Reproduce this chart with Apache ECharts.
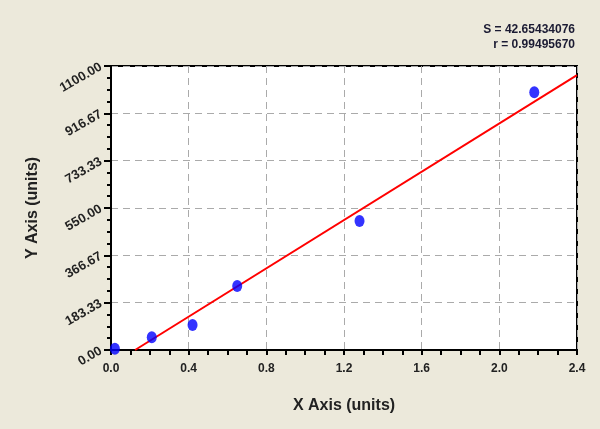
<!DOCTYPE html>
<html>
<head>
<meta charset="utf-8">
<script src="https://cdn.jsdelivr.net/npm/echarts@6/dist/echarts.min.js"></script>
<style>
html,body{margin:0;padding:0;background:#ECE9DB;}
#c{width:600px;height:429px;}
</style>
</head>
<body>
<div id="c"></div>
<script>
var xValues = [0.02, 0.21, 0.42, 0.65, 1.28, 2.18];
var yValues = [5, 49, 97, 248, 500, 998];
var fitX = [0.124, 2.4];
var fitY = [0, 1065];
var statS = "S = 42.65434076";
var statR = "r = 0.99495670";
var xName = "X Axis (units)";
var yName = "Y Axis (units)";

var points = xValues.map(function(x, i){ return [x, yValues[i]]; });
var fit = fitX.map(function(x, i){ return [x, fitY[i]]; });
var font = "Liberation Sans, Arial, sans-serif";

var chart = echarts.init(document.getElementById('c'), null, {renderer:'canvas'});
chart.setOption({
  backgroundColor: '#ECE9DB',
  animation: false,
  graphic: [
    {type: 'text', right: 25, top: 24, style: {text: statS, fontFamily: font, fontSize: 12, fontWeight: 'bold', fill: '#1b1b33'}},
    {type: 'text', right: 25, top: 39, style: {text: statR, fontFamily: font, fontSize: 12, fontWeight: 'bold', fill: '#1b1b33'}}
  ],
  grid: {left: 111, right: 23, top: 66, bottom: 79, show: true, backgroundColor: '#ffffff', borderColor: '#000', borderWidth: 2},
  xAxis: {
    type: 'value', min: 0, max: 2.4, interval: 0.4,
    name: xName, nameLocation: 'middle', nameGap: 48,
    nameTextStyle: {fontFamily: font, fontSize: 16, fontWeight: 'bold', color: '#222'},
    axisLine: {show: true, onZero: false, lineStyle: {color: '#000', width: 2}},
    axisTick: {show: true, length: 5, lineStyle: {color: '#000', width: 2}},
    minorTick: {show: true, splitNumber: 4, length: 5, lineStyle: {color: '#000', width: 2}},
    axisLabel: {fontFamily: font, fontSize: 12, fontWeight: 'bold', color: '#222', margin: 13,
      formatter: function(v){ return v.toFixed(1); }},
    splitLine: {show: true, lineStyle: {color: '#aaaaaa', type: [7, 5], width: 1}}
  },
  yAxis: {
    type: 'value', min: 0, max: 1100, interval: 1100/6,
    name: yName, nameLocation: 'middle', nameGap: 70,
    nameTextStyle: {fontFamily: font, fontSize: 16, fontWeight: 'bold', color: '#222'},
    axisLine: {show: true, onZero: false, lineStyle: {color: '#000', width: 2}},
    axisTick: {show: true, length: 7, lineStyle: {color: '#000', width: 2}},
    minorTick: {show: true, splitNumber: 4, length: 4, lineStyle: {color: '#000', width: 2}},
    axisLabel: {fontFamily: font, fontSize: 13, fontWeight: 'bold', color: '#222', rotate: 30, margin: 10,
      formatter: function(v){ return v.toFixed(2); }},
    splitLine: {show: true, lineStyle: {color: '#aaaaaa', type: [7, 5], width: 1}}
  },
  series: [
    {type: 'line', data: fit, symbol: 'none', lineStyle: {color: '#ff0000', width: 2}, z: 2, silent: true},
    {type: 'scatter', data: points, symbol: 'circle', symbolSize: [10, 12], itemStyle: {color: '#0000ff'}, z: 3, clip: false}
  ]
});
</script>
</body>
</html>
